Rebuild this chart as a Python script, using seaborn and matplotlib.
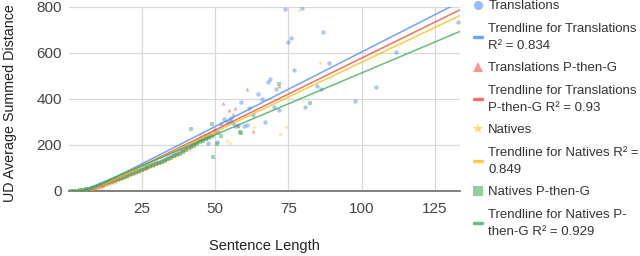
import numpy as np
import pandas as pd
import matplotlib
matplotlib.use("Agg")
import matplotlib.pyplot as plt
from matplotlib.lines import Line2D
import seaborn as sns

# Sentence length vs. UD average summed distance
trans_x = [1, 2, 3, 4, 5, 6, 7, 8, 9, 10, 11, 12, 13, 14, 15, 16, 17, 18, 19, 20,
           21, 22, 23, 24, 25, 26, 27, 28, 29, 30, 31, 32, 33, 34, 35, 36, 37, 38, 39, 40,
           41, 42, 43, 44, 45, 46, 47, 47.7, 48, 49, 50, 50.8, 51, 52, 53, 54, 55, 55.5,
           56, 57, 58, 58.8, 60, 61, 61.7, 63, 64.8, 65.9, 67, 68, 68.8, 70, 70.8, 71.9,
           74, 74.8, 75.9, 76.8, 79.8, 80.8, 84.9, 86, 86.8, 88.9, 97.9, 105, 111.8, 133]
trans_y = [0, 1, 2, 4, 5, 7, 10, 13, 17, 21, 24, 29, 33, 37, 42, 47, 52, 57, 63, 69,
           73, 80, 85, 90, 97, 100, 106, 113, 116, 124, 127, 135, 140, 146, 150, 162, 166, 178, 180, 192,
           190, 205, 208, 218, 228, 232, 240, 210, 248, 238, 265, 214, 258, 290, 312, 300, 306, 318,
           296, 282, 285, 388, 283, 286, 359, 330, 420, 399, 301, 475, 488, 364, 442, 352,
           791, 649, 665, 525, 796, 364, 457, 445, 691, 557, 393, 452, 604, 736]

trans_pg_x = [1, 2, 3, 4, 5, 6, 7, 8, 9, 10, 11, 12, 13, 14, 15, 16, 17, 18, 19, 20,
              21, 22, 23, 24, 25, 26, 27, 28, 29, 30, 31, 32, 33, 34, 35, 36, 37, 38, 39, 40,
              41, 42, 43, 44, 45, 46, 47, 48, 49, 50, 52.9, 54.9, 56, 56.8, 58, 60.8, 62.9, 71.8]
trans_pg_y = [0, 1, 2, 3, 5, 7, 9, 12, 16, 19, 23, 28, 31, 36, 40, 45, 50, 56, 61, 66,
              72, 78, 82, 88, 94, 99, 104, 110, 114, 120, 126, 130, 137, 142, 150, 155, 163, 170, 176, 186,
              192, 198, 206, 212, 220, 226, 235, 240, 246, 255, 384, 352, 335, 362, 283, 442, 262, 455]

nat_x = [1, 2, 3, 4, 5, 6, 7, 8, 9, 10, 11, 12, 13, 14, 15, 16, 17, 18, 19, 20,
         21, 22, 23, 24, 25, 26, 27, 28, 29, 30, 31, 32, 33, 34, 35, 36, 37, 38, 39, 40,
         41, 42, 43, 44, 44.9, 46.1, 47, 48, 49, 50, 51.7, 54, 55.1, 63.3, 72.2, 74.2, 78.8, 85.8]
nat_y = [0, 1, 2, 3, 4, 6, 9, 12, 15, 19, 23, 27, 31, 35, 40, 44, 49, 54, 60, 65,
         70, 76, 81, 87, 92, 97, 102, 108, 112, 118, 122, 128, 133, 140, 146, 152, 158, 165, 172, 180,
         178, 195, 200, 210, 243, 251, 228, 236, 242, 250, 291, 219, 210, 277, 248, 280, 787, 558]

nat_pg_x = [1, 2, 3, 4, 5, 6, 7, 8, 9, 10, 11, 12, 13, 14, 15, 16, 17, 18, 19, 20,
            21, 22, 23, 24, 25, 26, 27, 28, 29, 30, 31, 32, 33, 34, 35, 36, 37, 38, 39, 40,
            41.7, 42, 43, 44, 45, 46, 47, 48, 48.9, 49.4, 50.8, 52, 58.5, 58.8, 71.8, 82.4]
nat_pg_y = [0, 1, 2, 4, 5, 7, 10, 13, 16, 20, 24, 28, 33, 37, 42, 46, 51, 56, 61, 67,
            72, 77, 82, 88, 93, 98, 103, 108, 112, 117, 122, 127, 132, 138, 144, 150, 156, 162, 170, 178,
            268, 190, 196, 204, 212, 218, 226, 232, 290, 149, 205, 240, 258, 253, 465, 384]

series = ["Translations", "Translations P-then-G", "Natives", "Natives P-then-G"]
trend_labels = ["Trendline for Translations\nR² = 0.834",
                "Trendline for Translations\nP-then-G R² = 0.93",
                "Trendline for Natives R² =\n0.849",
                "Trendline for Natives P-\nthen-G R² = 0.929"]
slopes = [6.49, 6.26, 6.06, 5.38]
intercepts = [-45, -48.5, -46.5, -25]

colors = ["#4285F4", "#EA4335", "#FBBC04", "#34A853"]
markers = ["o", "^", "*", "s"]
sizes = [10, 8, 12, 6]

df = pd.concat([
    pd.DataFrame({"len": trans_x, "dist": trans_y, "series": series[0]}),
    pd.DataFrame({"len": trans_pg_x, "dist": trans_pg_y, "series": series[1]}),
    pd.DataFrame({"len": nat_x, "dist": nat_y, "series": series[2]}),
    pd.DataFrame({"len": nat_pg_x, "dist": nat_pg_y, "series": series[3]}),
])

sns.set_theme(style="whitegrid")
plt.rcParams['font.family'] = ['Liberation Sans', 'DejaVu Sans']

fig = plt.figure(figsize=(6.4, 2.56), dpi=100)
ax = fig.add_axes([0.108, 0.254, 0.611, 0.719])

for name, col, mk, sz in zip(series, colors, markers, sizes):
    sns.scatterplot(data=df[df["series"] == name], x="len", y="dist", color=col,
                    marker=mk, s=sz, alpha=0.45, linewidth=0, ax=ax, legend=False, zorder=3)

xs = np.array([0, 134])
for col, a, b in zip(colors, slopes, intercepts):
    ax.plot(xs, a * xs + b, color=col, alpha=0.75, linewidth=1.1, zorder=4)

ax.set_xlim(0.3, 133.6)
ax.set_ylim(0, 800)
ax.set_xticks([25, 50, 75, 100, 125])
ax.set_yticks([0, 200, 400, 600, 800])
ax.grid(True, color="#d9d9d9", linewidth=0.9)
for s in ["left", "right", "top"]:
    ax.spines[s].set_visible(False)
ax.spines["bottom"].set_color("#757575")
ax.spines["bottom"].set_linewidth(1.3)
ax.tick_params(axis="both", labelsize=11, colors="#444444", length=0)
ax.tick_params(axis="x", pad=8)
ax.tick_params(axis="y", pad=5)
ax.set_xlabel("Sentence Length", fontsize=10.5, color="#222222")
ax.set_ylabel("UD Average Summed Distance", fontsize=10.3, color="#222222")
ax.xaxis.set_label_coords(0.5, -0.26)
ax.yaxis.set_label_coords(-0.133, 0.475)

handles, labels = [], []
for name, tl, col, mk in zip(series, trend_labels, colors, markers):
    handles.append(Line2D([], [], linestyle="none", marker=mk, color=col, alpha=0.55,
                          markersize=6.5 if mk != "*" else 8, markeredgewidth=0))
    labels.append(name)
    handles.append(Line2D([], [], color=col, alpha=0.75, linewidth=2.5))
    labels.append(tl)

leg = fig.legend(handles, labels, loc="upper left", bbox_to_anchor=(0.732, 1.02),
                 frameon=False, fontsize=9.5, handlelength=0.6, handletextpad=0.5,
                 labelspacing=0.8, borderaxespad=0)
for t in leg.get_texts():
    t.set_color("#333333")
    t.set_linespacing(1.52)

fig.savefig("out.png", dpi=100)
